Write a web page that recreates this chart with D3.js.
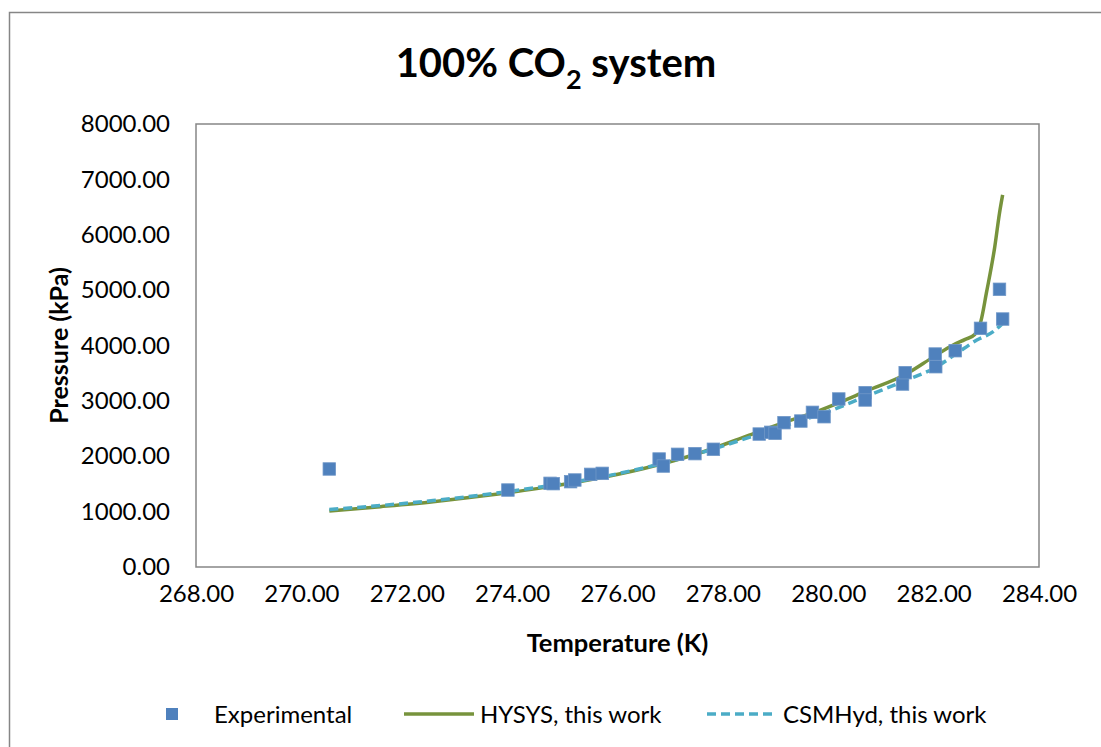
<!DOCTYPE html>
<html>
<head>
<meta charset="utf-8">
<script src="https://cdn.jsdelivr.net/npm/d3@7"></script>
<style>
  body { margin: 0; background: #fff; }
  text { font-family: Lato, "Open Sans", sans-serif; fill: #000; }
</style>
</head>
<body>
<div id="chart"></div>
<script>
const svgWidth = 1101;
const svgHeight = 747;

// plot area
const margin = { top: 124, right: 62, bottom: 180, left: 196 };
const width = svgWidth - margin.left - margin.right;
const height = svgHeight - margin.top - margin.bottom;

// axis ticks
const xTicks = [268, 270, 272, 274, 276, 278, 280, 282, 284];
const yTicks = [0, 1000, 2000, 3000, 4000, 5000, 6000, 7000, 8000];

// experimental points (T in K, P in kPa)
const expT = [270.53, 273.92, 274.72, 274.78, 275.11, 275.19, 275.49, 275.71, 276.79, 276.87,
  277.14, 277.47, 277.82, 278.69, 278.91, 278.99, 279.16, 279.48, 279.70, 279.92,
  280.20, 280.70, 280.70, 281.41, 281.46, 282.03, 282.04, 282.41, 282.89, 283.25, 283.31];
const expP = [1770, 1390, 1511, 1505, 1541, 1571, 1673, 1691, 1950, 1823,
  2035, 2047, 2126, 2401, 2432, 2414, 2606, 2636, 2793, 2714,
  3034, 3148, 3016, 3304, 3509, 3846, 3617, 3906, 4310, 5015, 4478];

// HYSYS prediction
const hysysT = [270.53, 271.5, 272.5, 273.5, 274.5, 275.5, 276.5, 277.5, 278.5, 279.1,
  279.84, 280.73, 281.49, 281.99, 282.37, 282.6, 282.78, 282.9, 283.0, 283.16, 283.25, 283.31];
const hysysP = [1010, 1090, 1180, 1290, 1420, 1580, 1780, 2040, 2380, 2590,
  2830, 3180, 3490, 3790, 4010, 4110, 4200, 4450, 4940, 5780, 6390, 6720];

// CSMHyd prediction
const csmT = [270.53, 271.5, 272.5, 273.5, 274.5, 275.5, 276.5, 277.5, 278.5, 279.2,
  279.91, 280.73, 281.49, 282.06, 282.44, 282.82, 283.13, 283.31];
const csmP = [1040, 1110, 1200, 1310, 1440, 1590, 1790, 2040, 2340, 2560,
  2775, 3088, 3377, 3617, 3858, 4099, 4249, 4400];

const blue = "#4f81bd";
const green = "#77933c";
const aqua = "#4bacc6";

const svg = d3.select("#chart")
  .append("svg")
  .attr("width", svgWidth)
  .attr("height", svgHeight);

// outer chart frame (runs off the right and bottom edge)
svg.append("rect")
  .attr("x", 9.5).attr("y", 12.5)
  .attr("width", svgWidth + 20).attr("height", svgHeight + 20)
  .attr("fill", "none")
  .attr("stroke", "#868686")
  .attr("stroke-width", 1.5);

// title with subscript
const title = svg.append("text")
  .attr("x", 556)
  .attr("y", 77)
  .attr("text-anchor", "middle")
  .attr("font-size", 40)
  .attr("font-weight", "bold");
title.append("tspan").text("100% CO");
title.append("tspan").attr("font-size", 27).attr("dy", 12).text("2");
title.append("tspan").attr("dy", -12).text(" system");

const chartGroup = svg.append("g")
  .attr("transform", `translate(${margin.left}, ${margin.top})`);

const x = d3.scaleLinear().domain([268, 284]).range([0, width]);
const y = d3.scaleLinear().domain([0, 8000]).range([height, 0]);

// axes, labels only
const xAxis = chartGroup.append("g")
  .attr("transform", `translate(0, ${height})`)
  .call(d3.axisBottom(x).tickValues(xTicks).tickSize(0).tickPadding(18).tickFormat(d3.format(".2f")));
const yAxis = chartGroup.append("g")
  .call(d3.axisLeft(y).tickValues(yTicks).tickSize(0).tickPadding(26).tickFormat(d3.format(".2f")));

[xAxis, yAxis].forEach(a => {
  a.select(".domain").remove();
  a.selectAll("text")
    .attr("font-family", "Lato, sans-serif")
    .attr("font-size", 24)
    .attr("fill", "#000");
});

// plot area border
chartGroup.append("rect")
  .attr("x", 0).attr("y", 0)
  .attr("width", width).attr("height", height)
  .attr("fill", "none")
  .attr("stroke", "#868686")
  .attr("stroke-width", 1.5);

// axis titles
chartGroup.append("text")
  .attr("x", width / 2)
  .attr("y", height + 85)
  .attr("text-anchor", "middle")
  .attr("font-size", 25.5)
  .attr("font-weight", "bold")
  .text("Temperature (K)");

chartGroup.append("text")
  .attr("transform", `translate(-128, ${height / 2}) rotate(-90)`)
  .attr("text-anchor", "middle")
  .attr("font-size", 25)
  .attr("font-weight", "bold")
  .text("Pressure (kPa)");

// model lines
const line = d3.line()
  .x(d => x(d[0]))
  .y(d => y(d[1]))
  .curve(d3.curveMonotoneX);

chartGroup.append("path")
  .datum(hysysT.map((t, i) => [t, hysysP[i]]))
  .attr("d", line)
  .attr("fill", "none")
  .attr("stroke", green)
  .attr("stroke-width", 3.5);

chartGroup.append("path")
  .datum(csmT.map((t, i) => [t, csmP[i]]))
  .attr("d", line)
  .attr("fill", "none")
  .attr("stroke", aqua)
  .attr("stroke-width", 3.5)
  .attr("stroke-dasharray", "9,5");

// experimental squares
const sq = 12.5;
chartGroup.selectAll(".exp")
  .data(expT.map((t, i) => [t, expP[i]]))
  .enter()
  .append("rect")
  .attr("class", "exp")
  .attr("x", d => x(d[0]) - sq / 2)
  .attr("y", d => y(d[1]) - sq / 2)
  .attr("width", sq)
  .attr("height", sq)
  .attr("fill", blue)
  .attr("stroke", "#6f97c8")
  .attr("stroke-width", 0.8);

// legend
const legend = svg.append("g").attr("transform", "translate(0, 714)");

legend.append("rect")
  .attr("x", 166).attr("y", -6)
  .attr("width", 12).attr("height", 12)
  .attr("fill", blue);
legend.append("text")
  .attr("x", 214).attr("y", 8.5)
  .attr("font-size", 24)
  .text("Experimental");

legend.append("line")
  .attr("x1", 404).attr("x2", 474)
  .attr("stroke", green).attr("stroke-width", 3.5);
legend.append("text")
  .attr("x", 480).attr("y", 8.5)
  .attr("font-size", 24)
  .text("HYSYS, this work");

legend.append("line")
  .attr("x1", 707).attr("x2", 777)
  .attr("stroke", aqua).attr("stroke-width", 3.5)
  .attr("stroke-dasharray", "9,5");
legend.append("text")
  .attr("x", 783).attr("y", 8.5)
  .attr("font-size", 24)
  .text("CSMHyd, this work");
</script>
</body>
</html>
